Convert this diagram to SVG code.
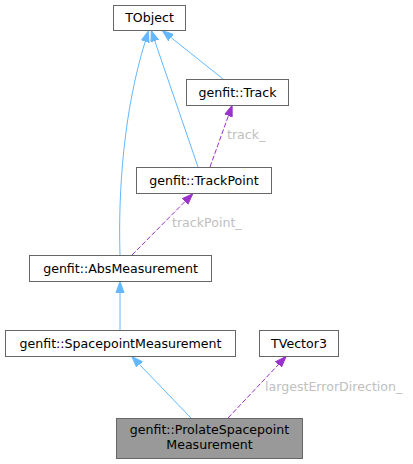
<svg xmlns="http://www.w3.org/2000/svg" width="413" height="464" viewBox="0 0 413 464">
<style>
.node rect{fill:#ffffff;stroke:#666666;stroke-width:1}
.node.cur rect{fill:#999999}
.node text{font-family:"DejaVu Sans",sans-serif;font-size:12.6px;fill:#000000;text-anchor:middle}
.inh{fill:none;stroke:#63b8ff;stroke-width:1;marker-end:url(#ab)}
.use{fill:none;stroke:#9a32cd;stroke-width:1;stroke-dasharray:5,2;marker-end:url(#ap)}
.lbl{font-family:"DejaVu Sans",sans-serif;font-size:12.6px;fill:#c0c0c0}
</style>
<defs>
<marker id="ab" markerUnits="userSpaceOnUse" markerWidth="12" markerHeight="10" refX="0" refY="5" orient="auto" viewBox="0 0 12 10">
<path d="M0,1 L11,5 L0,9 z" fill="#63b8ff" stroke="#63b8ff" stroke-width="1"/>
</marker>
<marker id="ap" markerUnits="userSpaceOnUse" markerWidth="12" markerHeight="10" refX="0" refY="5" orient="auto" viewBox="0 0 12 10">
<path d="M0,1 L11,5 L0,9 z" fill="#9a32cd" stroke="#9a32cd" stroke-width="1"/>
</marker>
</defs>
<g id="edges">
<path class="inh" d="M120,255 C118,190 124,110 145.2,41.5"/>
<path class="inh" d="M198,167 L154.8,41"/>
<path class="inh" d="M223,79 L171,37.5"/>
<path class="use" d="M210,167 L228.4,115.8"/>
<text class="lbl" x="227" y="139">track_</text>
<path class="use" d="M132,255 L185,201.5"/>
<text class="lbl" x="172" y="227">trackPoint_</text>
<path class="inh" d="M120,330 L120,292.5"/>
<path class="inh" d="M191,418 L139.5,364.5"/>
<path class="use" d="M228,418 L278.5,364.5"/>
<text class="lbl" x="265" y="390.5">largestErrorDirection_</text>
</g>
<g id="TObject" class="node"><rect x="113.5" y="5.5" width="72" height="25"/><text x="149.5" y="21.5">TObject</text></g>
<g id="Track" class="node"><rect x="186.5" y="79.5" width="102" height="26"/><text x="237.5" y="96.5">genfit::Track</text></g>
<g id="TrackPoint" class="node"><rect x="136.5" y="167.5" width="135" height="26"/><text x="204" y="184.5">genfit::TrackPoint</text></g>
<g id="AbsMeasurement" class="node"><rect x="29.5" y="255.5" width="182" height="26"/><text x="120.5" y="272.5">genfit::AbsMeasurement</text></g>
<g id="SpacepointMeasurement" class="node"><rect x="5.5" y="330.5" width="230" height="26"/><text x="120.5" y="347.5">genfit::SpacepointMeasurement</text></g>
<g id="TVector3" class="node"><rect x="259.5" y="330.5" width="79" height="26"/><text x="299" y="347.5">TVector3</text></g>
<g id="ProlateSpacepointMeasurement" class="node cur"><rect x="116.5" y="418.5" width="186" height="40"/><text x="209.5" y="434">genfit::ProlateSpacepoint</text><text x="209.5" y="448.5">Measurement</text></g>
</svg>
